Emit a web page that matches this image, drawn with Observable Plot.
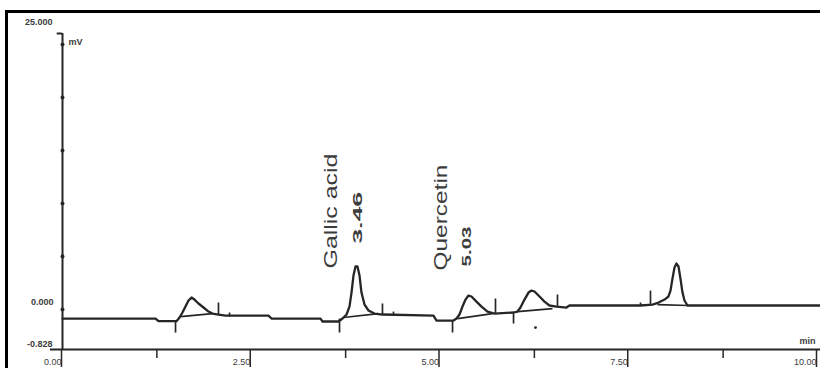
<!DOCTYPE html>
<html><head><meta charset="utf-8">
<script src="https://cdn.jsdelivr.net/npm/d3@7"></script>
<script src="https://cdn.jsdelivr.net/npm/@observablehq/plot@0.6"></script>
<style>
body{margin:0;background:#fff;overflow:hidden;}
#wrap{position:relative;width:820px;height:368px;overflow:hidden;background:#fff;}
#border{position:absolute;left:5px;top:10px;width:840px;height:420px;border:3px solid #000;pointer-events:none;}
</style></head><body><div id="wrap"><div id="border"></div></div>
<script>
// Chromatogram signal (time in min, signal in mV)
const sigT = [0,1.232,1.272,1.510,1.550,1.589,1.629,1.669,1.709,1.748,1.801,1.868,1.934,1.987,2.066,2.159,2.728,2.768,3.417,3.444,3.656,3.709,3.762,3.801,3.828,3.854,3.881,3.907,3.934,3.960,4.0,4.053,4.132,4.238,4.914,4.954,5.179,5.219,5.258,5.298,5.338,5.377,5.417,5.483,5.550,5.629,5.722,5.974,6.026,6.066,6.119,6.172,6.212,6.252,6.318,6.384,6.450,6.543,6.675,6.715,7.656,7.815,7.894,7.974,8.026,8.053,8.079,8.106,8.132,8.159,8.185,8.212,8.238,8.278,10.04];
const sigV = [-0.85,-0.85,-1.10,-1.10,-0.75,-0.28,0.28,0.85,1.13,0.94,0.57,0.19,-0.19,-0.38,-0.47,-0.57,-0.57,-0.85,-0.85,-1.13,-1.13,-0.85,-0.47,0.28,1.60,3.21,4.06,4.06,3.21,1.60,0.47,-0.09,-0.38,-0.47,-0.57,-1.04,-1.04,-0.85,-0.47,0.28,0.94,1.32,1.23,0.75,0.28,-0.19,-0.38,-0.28,-0.19,0.19,0.94,1.60,1.79,1.70,1.23,0.75,0.38,0.28,0.19,0.38,0.38,0.47,0.66,0.94,1.23,1.79,2.92,3.96,4.34,4.06,2.92,1.60,0.85,0.38,0.38];

// Integration baselines under peaks
const baseT1 = [1.563,3.722,5.232,6.026,7.881];
const baseV1 = [-0.66,-0.75,-0.85,-0.19,0.47];
const baseT2 = [1.987,4.185,5.695,6.490,8.291];
const baseV2 = [-0.38,-0.38,-0.38,0.09,0.38];

// Peak event marks (vertical strokes)
const evT  = [1.497,3.669,5.166,5.974,2.066,4.238,5.735,6.556,7.788,2.212,4.384,7.656];
const evV1 = [-1.04,-0.85,-1.04,-0.28,0.66,0.57,1.04,1.42,1.79,-0.28,-0.19,0.66];
const evV2 = [-2.17,-2.17,-2.17,-1.32,-0.47,-0.47,-0.38,0.28,0.47,-0.66,-0.57,0.38];
const dotT = [6.265];
const dotV = [-1.70];

// Axes
const xMajor = [0,2.5,5,7.5,10];
const xMinor = [1.25,3.75,6.25,8.75];
const yTicks = [0,5,10,15,20,25];
const yMin = -3.77, yMax = 26.04;

// Peak annotations
const annNames = ["Gallic acid","Quercetin"];
const annNameT = [3.55,5.01];
const annNameV = [3.87,3.68];
const annRT = ["3.46","5.03"];
const annRTt = [3.91,5.36];
const annRTv = [6.2,4.06];

const signal = sigT.map((t,i)=>({t, v: sigV[i]}));
const bases = baseT1.map((t,i)=>({t1:t, v1:baseV1[i], t2:baseT2[i], v2:baseV2[i]}));
const events = evT.map((t,i)=>({t, v1:evV1[i], v2:evV2[i]}));
const dots = dotT.map((t,i)=>({t, v:dotV[i]}));
const names = annNames.map((s,i)=>({s, t:annNameT[i], v:annNameV[i]}));
const rts = annRT.map((s,i)=>({s, t:annRTt[i], v:annRTv[i]}));

const ink = "#262626";
const txt = "#3c3c3c";

const plot = Plot.plot({
  width: 820, height: 368,
  marginLeft: 62, marginRight: 3, marginTop: 33, marginBottom: 19,
  x: {domain: [0,10], axis: null},
  y: {domain: [yMin, yMax], axis: null},
  style: {fontFamily: "'Liberation Sans', Arial, sans-serif", background: "transparent", overflow: "visible"},
  marks: [
    // axes lines
    Plot.ruleY([yMin], {x1: -0.16, x2: 10.04, stroke: ink, strokeWidth: 2}),
    Plot.ruleX([0], {y1: yMin, y2: yMax, stroke: ink, strokeWidth: 2}),
    Plot.ruleY([yMax], {x1: -0.07, x2: 0, stroke: ink, strokeWidth: 2}),
    Plot.dot(yTicks, {x: 0, y: d=>d, r: 2, fill: ink, stroke: "none"}),
    Plot.axisX(xMajor, {anchor: "bottom", tickSize: 18, tickPadding: -9, textAnchor: "end", dx: -1,
      tickFormat: d=>d.toFixed(2), fontSize: 9, fill: txt, stroke: ink, strokeWidth: 1.5, label: null}),
    Plot.axisX(xMinor, {anchor: "bottom", tickSize: 9, tickFormat: ()=>"", stroke: ink, strokeWidth: 1.5, label: null}),
    // y labels
    Plot.text(["25.000"], {x: 0, y: yMax, dx: -10, dy: -11, textAnchor: "end", fontSize: 9, fill: txt, fontWeight: "bold"}),
    Plot.text(["0.000"], {x: 0, y: 0, dx: -9, dy: -7, textAnchor: "end", fontSize: 9, fill: txt, fontWeight: "bold"}),
    Plot.text(["-0.828"], {x: 0, y: yMin, dx: -10, dy: -5, textAnchor: "end", fontSize: 9, fill: txt, fontWeight: "bold"}),
    Plot.text(["mV"], {x: 0, y: yMax, dx: 6, dy: 9, textAnchor: "start", fontSize: 9, fill: txt, fontWeight: "bold"}),
    Plot.text(["min"], {x: 10, y: yMin, dx: -2, dy: -8, textAnchor: "end", fontSize: 9, fill: txt, fontWeight: "bold"}),
    // integration baselines
    Plot.link(bases, {x1: "t1", y1: "v1", x2: "t2", y2: "v2", stroke: ink, strokeWidth: 1.7}),
    // event marks
    Plot.link(events, {x1: "t", y1: "v1", x2: "t", y2: "v2", stroke: ink, strokeWidth: 1.7}),
    Plot.dot(dots, {x: "t", y: "v", r: 1.4, fill: ink, stroke: "none"}),
    // signal
    Plot.line(signal, {x: "t", y: "v", stroke: ink, strokeWidth: 2.3, curve: "linear"}),
    // annotations
    Plot.text(names, {x: "t", y: "v", text: "s", rotate: -90, textAnchor: "start", lineAnchor: "middle", fontSize: 19, fill: txt}),
    Plot.text(rts, {x: "t", y: "v", text: "s", rotate: -90, textAnchor: "start", lineAnchor: "middle", fontSize: 12, fontWeight: "bold", fill: txt})
  ]
});
const lens = {"Gallic acid": 115, "Quercetin": 106, "3.46": 52, "5.03": 40};
d3.select(plot).selectAll("text").each(function(){
  const s = this.textContent;
  if (lens[s]) { this.setAttribute("textLength", lens[s]); this.setAttribute("lengthAdjust", "spacingAndGlyphs"); }
});
plot.style.position = "absolute"; plot.style.left = "0"; plot.style.top = "0";
document.getElementById("wrap").insertBefore(plot, document.getElementById("border"));
</script>
</body></html>
